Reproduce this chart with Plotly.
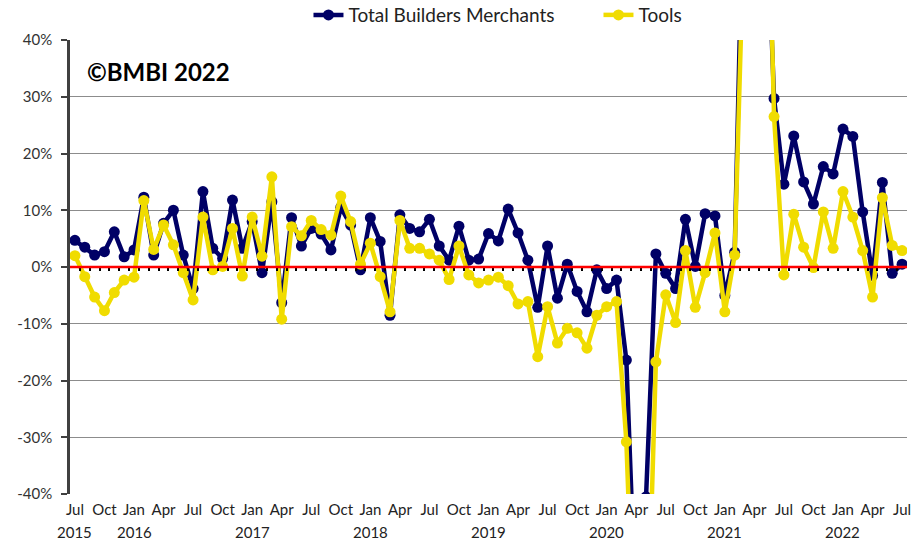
import plotly.graph_objects as go
import pandas as pd

# Monthly categories Jul 2015 - Jul 2022
months = [d.strftime("%b %Y") for d in pd.date_range("2015-07-01", periods=85, freq="MS")]

total_bm = [
    4.7, 3.5, 2.1, 2.7, 6.2, 1.8,            # Jul-Dec 2015
    3.0, 12.3, 2.1, 7.7, 10.0, 2.1, -3.8, 13.3, 3.3, 1.5, 11.8, 3.3,   # 2016
    8.0, -1.0, 11.5, -6.3, 8.7, 3.7, 6.8, 5.8, 3.0, 10.5, 7.4, -0.5,   # 2017
    8.7, 4.5, -8.5, 9.2, 6.8, 6.2, 8.4, 3.7, 1.2, 7.2, 1.2, 1.4,       # 2018
    5.9, 4.6, 10.2, 6.0, 1.2, -7.1, 3.7, -5.5, 0.5, -4.3, -7.9, -0.5,  # 2019
    -3.8, -2.3, -16.4, -63.0, -40.5, 2.3, -1.1, -3.8, 8.4, 0.1, 9.4, 9.0,  # 2020
    -5.0, 2.6, 55.0, 150.0, 75.0, 29.7, 14.6, 23.1, 15.0, 11.1, 17.7, 16.4,  # 2021
    24.3, 23.0, 9.7, -1.5, 14.9, -1.1, 0.5,  # 2022
]

tools = [
    2.0, -1.7, -5.3, -7.7, -4.5, -2.3,
    -1.8, 11.7, 3.1, 7.4, 3.9, -1.0, -5.8, 8.8, -0.5, 0.1, 6.8, -1.6,
    8.8, 1.9, 15.9, -9.2, 7.1, 5.5, 8.2, 6.6, 5.6, 12.5, 8.0, 0.5,
    4.2, -1.7, -7.9, 8.2, 3.3, 3.3, 2.3, 1.2, -2.2, 3.7, -1.4, -2.8,
    -2.3, -1.8, -3.3, -6.5, -6.1, -15.8, -7.0, -13.4, -10.8, -11.6, -14.3, -8.5,
    -7.0, -6.1, -30.8, -78.0, -75.0, -16.7, -4.9, -9.8, 2.9, -7.1, -1.0, 6.0,
    -7.9, 2.1, 63.0, 150.0, 95.0, 26.5, -1.4, 9.3, 3.5, -0.1, 9.7, 3.3,
    13.3, 8.8, 2.9, -5.3, 12.2, 3.8, 2.9,
]

tick_months = months[::3]
tick_text = [m.split(" ")[0] for m in tick_months]
year_months = [m for m in months if m.startswith("Jan") or m == months[0]]
year_text = [m.split(" ")[1] for m in year_months]

y_ticks = [-40, -30, -20, -10, 0, 10, 20, 30, 40]
y_ticktext = [f"{v}%" for v in y_ticks]

FONT = "Lato, 'Open Sans', sans-serif"
NAVY = "#000066"
YELLOW = "#F0DC00"

fig = go.Figure()
fig.add_trace(go.Scatter(
    x=months, y=total_bm, mode="lines+markers", name="Total Builders Merchants",
    line=dict(color=NAVY, width=4.5), marker=dict(color=NAVY, size=11),
))
fig.add_trace(go.Scatter(
    x=months, y=tools, mode="lines+markers", name="Tools",
    line=dict(color=YELLOW, width=4.5), marker=dict(color=YELLOW, size=11),
))
# helper axis for the small tick marks along the zero line
fig.add_trace(go.Scatter(
    x=[-0.5, len(months) - 0.5], y=[0, 0], xaxis="x2", mode="lines",
    line=dict(width=0, color="rgba(0,0,0,0)"), showlegend=False, hoverinfo="skip",
))

fig.add_shape(type="line", xref="paper", yref="y", x0=0, x1=1, y0=0, y1=0,
              line=dict(color="#FF0000", width=2.5), layer="above")

fig.add_annotation(text="<b>©BMBI 2022</b>", xref="paper", yref="paper",
                   x=0.018, y=0.93, xanchor="left", yanchor="middle",
                   showarrow=False, font=dict(family=FONT, size=24, color="#000000"))

for ym, yt in zip(year_months, year_text):
    fig.add_annotation(text=yt, x=ym, xref="x", yref="paper", y=-0.084,
                       xanchor="center", yanchor="middle", showarrow=False,
                       font=dict(family=FONT, size=15, color="#222222"))

fig.update_layout(
    width=920, height=541,
    margin=dict(l=70, r=13, t=40, b=47, autoexpand=False),
    paper_bgcolor="white", plot_bgcolor="white",
    font=dict(family=FONT, size=15, color="#404040"),
    showlegend=True,
    legend=dict(orientation="h", x=0.6314, xanchor="center", y=1.055, yanchor="middle",
                font=dict(family=FONT, size=19, color="#222222"),
                itemwidth=30, entrywidth=245, bgcolor="rgba(0,0,0,0)"),
    xaxis=dict(type="category", range=[-0.5, len(months) - 0.5],
               tickmode="array", tickvals=tick_months, ticktext=tick_text,
               tickangle=0, automargin=False, ticklabelstandoff=5,
               showgrid=False, showline=False, zeroline=False, ticks="",
               tickfont=dict(family=FONT, size=15, color="#222222")),
    xaxis2=dict(overlaying="x", anchor="free", position=0.5, side="bottom",
                range=[-0.5, len(months) - 0.5], showgrid=False, showline=False,
                zeroline=False, showticklabels=False, ticks="outside", ticklen=3,
                tickwidth=1.5, tickcolor="#000000", automargin=False,
                tickmode="array", tickvals=[i + 0.5 for i in range(len(months) - 1)]),
    yaxis=dict(range=[-40, 40], tickmode="array", tickvals=y_ticks, ticktext=y_ticktext,
               showgrid=True, gridcolor="#8C8C8C", gridwidth=1.2, automargin=False,
               showline=True, linecolor="#404040", linewidth=2.5,
               ticks="outside", ticklen=6, tickwidth=1.5, tickcolor="#404040",
               ticklabelstandoff=6, zeroline=False,
               tickfont=dict(family=FONT, size=15, color="#333333")),
)

fig.write_html("out.html", config={"displayModeBar": False},
               post_script="document.body.style.margin='0';document.body.style.overflow='hidden';")
